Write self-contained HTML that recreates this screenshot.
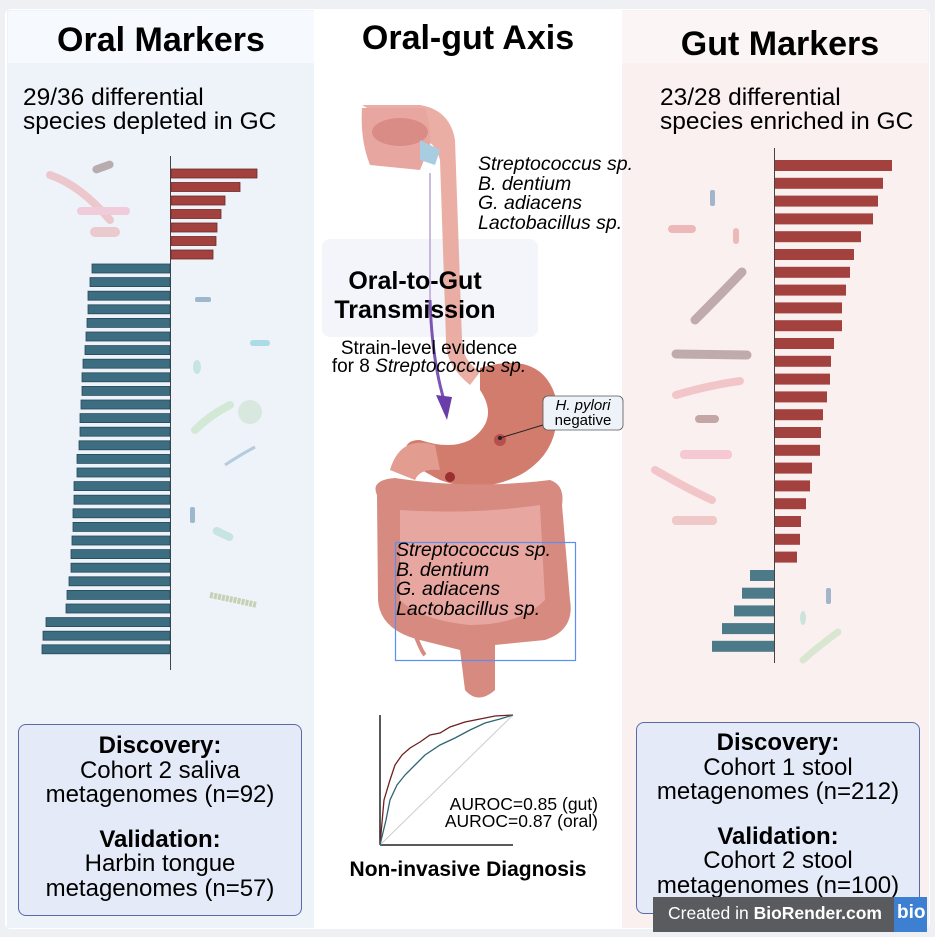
<!DOCTYPE html>
<html><head><meta charset="utf-8"><style>
html,body{margin:0;padding:0;background:#eef0f3;}
body{width:935px;height:937px;position:relative;overflow:hidden;font-family:"Liberation Sans",sans-serif;}
.t{position:absolute;white-space:nowrap;color:#000;}
</style></head><body>
<svg width="935" height="937" style="position:absolute;left:0;top:0" xmlns="http://www.w3.org/2000/svg">
<rect x="5" y="9" width="925" height="920" rx="6" fill="#fff"/>
<rect x="7" y="10" width="307" height="918" fill="#eef3fa"/>
<rect x="8" y="11" width="306" height="52" fill="#f6f9fd"/>
<rect x="622" y="10" width="307" height="918" fill="#fbf0f0"/>
<rect x="622" y="11" width="306" height="52" fill="#fcf5f5"/>
<g opacity="0.55">
<path d="M50 175 Q80 185 110 220" stroke="#eba5a8" stroke-width="8" fill="none" stroke-linecap="round"/>
<rect x="77" y="207" width="53" height="8" rx="4" fill="#f3a9bd"/>
<rect x="90" y="227" width="30" height="10" rx="5" fill="#e8a8a8"/>
<rect x="92" y="163" width="22" height="8" rx="4" fill="#8c7272" transform="rotate(-20 103 167)"/>
<rect x="195" y="297" width="16" height="5" rx="2" fill="#5c86a8"/>
<rect x="250" y="340" width="20" height="6" rx="3" fill="#76c7d6"/>
<ellipse cx="197" cy="367" rx="4" ry="7" fill="#a6d8cc"/>
<path d="M195 430 Q210 415 230 405" stroke="#bde0b8" stroke-width="8" fill="none" stroke-linecap="round"/>
<circle cx="250" cy="412" r="12" fill="#c6dfc8"/>
<path d="M225 465 Q240 455 255 447" stroke="#86acc6" stroke-width="3" fill="none"/>
<rect x="190" y="507" width="5" height="16" rx="2" fill="#5c86a8"/>
<rect x="212" y="530" width="22" height="8" rx="4" fill="#a6d8cc" transform="rotate(25 223 534)"/>
<path d="M210 595 Q235 600 257 605" stroke="#a8b27a" stroke-width="6" fill="none" stroke-dasharray="3 1"/>
</g>
<g opacity="0.55">
<rect x="710" y="190" width="5" height="16" rx="2" fill="#5c86a8"/>
<rect x="668" y="225" width="28" height="8" rx="4" fill="#e38c8c"/>
<rect x="733" y="228" width="6" height="16" rx="3" fill="#e38c8c"/>
<path d="M695 320 Q720 295 742 272" stroke="#8f7474" stroke-width="9" fill="none" stroke-linecap="round"/>
<path d="M676 354 L747 355" stroke="#8f7474" stroke-width="9" stroke-linecap="round"/>
<path d="M676 395 Q710 385 740 381" stroke="#eba5a8" stroke-width="8" stroke-linecap="round" fill="none"/>
<rect x="695" y="415" width="24" height="8" rx="4" fill="#9a6a6a"/>
<rect x="680" y="450" width="52" height="9" rx="4" fill="#f3a9bd"/>
<path d="M655 470 Q690 490 712 500" stroke="#eba5a8" stroke-width="8" stroke-linecap="round" fill="none"/>
<rect x="672" y="516" width="45" height="9" rx="4" fill="#e8a8a8"/>
<rect x="826" y="588" width="5" height="16" rx="2" fill="#5c86a8"/>
<ellipse cx="803" cy="618" rx="3" ry="7" fill="#a6d8cc"/>
<path d="M803 660 Q820 645 838 632" stroke="#bde0b8" stroke-width="7" fill="none" stroke-linecap="round"/>
</g>
<line x1="170.5" y1="156" x2="170.5" y2="670" stroke="#444" stroke-width="1"/>
<g fill="#a3413f" stroke="#6f2a2a" stroke-width="0.8">
<rect x="171" y="169" width="86" height="9"/><rect x="171" y="182.5" width="69" height="9"/><rect x="171" y="196" width="54" height="9"/><rect x="171" y="209.5" width="50" height="9"/><rect x="171" y="223" width="46" height="9"/><rect x="171" y="236.5" width="45" height="9"/><rect x="171" y="250" width="42" height="9"/>
</g>
<g fill="#3d6d80" stroke="#26495a" stroke-width="0.8">
<rect x="92" y="264" width="78" height="9"/><rect x="90" y="277.6" width="80" height="9"/><rect x="88" y="291.2" width="82" height="9"/><rect x="88" y="304.8" width="82" height="9"/><rect x="87" y="318.4" width="83" height="9"/><rect x="86" y="332" width="84" height="9"/><rect x="85" y="345.6" width="85" height="9"/><rect x="83" y="359.2" width="87" height="9"/><rect x="82" y="372.8" width="88" height="9"/><rect x="82" y="386.4" width="88" height="9"/><rect x="81" y="400" width="89" height="9"/><rect x="80" y="413.6" width="90" height="9"/><rect x="80" y="427.2" width="90" height="9"/><rect x="79" y="440.8" width="91" height="9"/><rect x="77" y="454.4" width="93" height="9"/><rect x="77" y="468" width="93" height="9"/><rect x="74" y="481.6" width="96" height="9"/><rect x="74" y="495.2" width="96" height="9"/><rect x="73" y="508.8" width="97" height="9"/><rect x="73" y="522.4" width="97" height="9"/><rect x="72" y="536" width="98" height="9"/><rect x="71" y="549.6" width="99" height="9"/><rect x="71" y="563.2" width="99" height="9"/><rect x="69" y="576.8" width="101" height="9"/><rect x="67" y="590.4" width="103" height="9"/><rect x="66" y="604" width="104" height="9"/><rect x="46" y="617.6" width="124" height="9"/><rect x="43" y="631.2" width="127" height="9"/><rect x="42" y="644.8" width="128" height="9"/>
</g>
<line x1="774.5" y1="148" x2="774.5" y2="663" stroke="#444" stroke-width="1"/>
<g fill="#a3413f">
<rect x="775" y="160" width="117" height="11"/><rect x="775" y="177.8" width="108" height="11"/><rect x="775" y="195.6" width="103" height="11"/><rect x="775" y="213.4" width="98" height="11"/><rect x="775" y="231.2" width="86" height="11"/><rect x="775" y="249" width="79" height="11"/><rect x="775" y="266.8" width="75" height="11"/><rect x="775" y="284.6" width="71" height="11"/><rect x="775" y="302.4" width="67" height="11"/><rect x="775" y="320.2" width="67" height="11"/><rect x="775" y="338" width="59" height="11"/><rect x="775" y="355.8" width="56" height="11"/><rect x="775" y="373.6" width="55" height="11"/><rect x="775" y="391.4" width="52" height="11"/><rect x="775" y="409.2" width="48" height="11"/><rect x="775" y="427" width="46" height="11"/><rect x="775" y="444.8" width="45" height="11"/><rect x="775" y="462.6" width="37" height="11"/><rect x="775" y="480.4" width="35" height="11"/><rect x="775" y="498.2" width="31" height="11"/><rect x="775" y="516" width="26" height="11"/><rect x="775" y="533.8" width="25" height="11"/><rect x="775" y="551.6" width="22" height="11"/>
</g>
<g fill="#4c7a88">
<rect x="750" y="570" width="24" height="11"/><rect x="742" y="587.7" width="32" height="11"/><rect x="734" y="605.4" width="40" height="11"/><rect x="722" y="623.1" width="52" height="11"/><rect x="712" y="640.8" width="62" height="11"/>
</g>
<rect x="322" y="239" width="216" height="98" rx="8" fill="#f3f5fa"/>
<path d="M362 105 L420 105 Q450 110 455 140 L462 340 Q462 360 480 372 L470 385 Q445 365 446 340 L440 160 Q435 140 420 140 Z" fill="#e8a59a" opacity="0.9"/>
<path d="M362 108 L425 108 Q432 130 430 145 L420 170 L370 165 Q360 140 362 108Z" fill="#e7a7a0"/>
<ellipse cx="400" cy="132" rx="28" ry="14" fill="#d98c85"/>
<path d="M420 140 L440 150 L435 165 L420 160Z" fill="#a9cde0"/>
<line x1="430" y1="173" x2="430" y2="300" stroke="#b9a4d6" stroke-width="1.5"/>
<path d="M430 300 Q432 360 444 400" stroke="#7b55b3" stroke-width="3" fill="none"/>
<polygon points="436,395 452,397 447,420" fill="#6a3ea8"/>
<path d="M480 368 Q540 350 555 395 Q565 450 520 475 Q480 495 440 480 Q420 470 408 460 Q400 440 420 440 Q450 450 470 440 Q500 420 480 390 Z" fill="#d27c6e"/>
<path d="M390 470 Q400 435 435 445 L440 470 Q420 468 415 480Z" fill="#e29c90"/>
<circle cx="450" cy="477" r="5" fill="#9b2f2f"/>
<circle cx="500" cy="440" r="6" fill="#b04545" opacity="0.8"/>
<path d="M377 495 Q370 480 395 478 Q470 490 550 480 Q565 485 562 505 L570 600 Q575 630 545 640 L495 645 L495 690 Q478 705 465 690 L460 650 L420 640 Q380 630 378 600 Z" fill="#d68a80"/>
<path d="M400 510 Q470 515 540 505 L545 600 Q520 625 470 625 Q420 620 400 600Z" fill="#e7a7a0"/>
<path d="M408 615 Q420 650 425 655" stroke="#d68a80" stroke-width="4" fill="none"/>
<rect x="395.5" y="542.5" width="180" height="118" fill="none" stroke="#5b8ff0" stroke-width="1.2"/>
<line x1="500" y1="438" x2="543" y2="425" stroke="#222" stroke-width="1"/>
<circle cx="500" cy="438" r="2" fill="#222"/>
<rect x="543" y="396" width="80" height="34" rx="5" fill="#eef3fa" stroke="#555" stroke-width="0.8"/>
<line x1="380" y1="715" x2="380" y2="845" stroke="#222" stroke-width="1.5"/>
<line x1="380" y1="845" x2="513" y2="845" stroke="#222" stroke-width="1.5"/>
<line x1="380" y1="845" x2="513" y2="715" stroke="#ccc" stroke-width="1"/>
<path d="M380 845 L384 800 L390 780 L395 765 L402 755 L410 748 L420 742 L430 735 L440 733 L450 727 L465 722 L480 719 L495 716 L513 715" stroke="#6e2020" stroke-width="1.3" fill="none"/>
<path d="M380 845 L386 820 L390 800 L397 785 L405 775 L415 765 L425 755 L440 745 L455 738 L470 730 L485 723 L500 719 L513 715" stroke="#2f6674" stroke-width="1.3" fill="none"/>
</svg>
<div style="position:absolute;left:18px;top:724px;width:282px;height:190px;border:1.3px solid #5b6aa6;border-radius:8px;background:#e4eaf7"></div>
<div style="position:absolute;left:636px;top:722px;width:282px;height:190px;border:1.3px solid #5b6aa6;border-radius:8px;background:#e4eaf7"></div>
<div class="t" style="left:8px;top:21px;width:306px;text-align:center;font-size:34px;font-weight:bold">Oral Markers</div>
<div class="t" style="left:314px;top:19px;width:308px;text-align:center;font-size:34px;font-weight:bold">Oral-gut Axis</div>
<div class="t" style="left:628px;top:25px;width:304px;text-align:center;font-size:34px;font-weight:bold">Gut Markers</div>
<div class="t" style="left:23px;top:86px;font-size:24.5px;line-height:24px">29/36 differential<br>species depleted in GC</div>
<div class="t" style="left:660px;top:86px;font-size:24.5px;line-height:24px">23/28 differential<br>species enriched in GC</div>
<div class="t" style="left:478px;top:155px;font-size:19.5px;line-height:19.5px;font-style:italic">Streptococcus sp.<br>B. dentium<br>G. adiacens<br>Lactobacillus sp.</div>
<div class="t" style="left:396px;top:541px;font-size:19.5px;line-height:19.5px;font-style:italic">Streptococcus sp.<br>B. dentium<br>G. adiacens<br>Lactobacillus sp.</div>
<div class="t" style="left:308px;top:267px;width:214px;text-align:center;font-size:25px;font-weight:bold;line-height:29px">Oral-to-Gut<br>Transmission</div>
<div class="t" style="left:314px;top:340px;width:230px;text-align:center;font-size:19px;line-height:18px">Strain-level evidence<br>for 8 <i>Streptococcus sp.</i></div>
<div class="t" style="left:543px;top:398px;width:80px;text-align:center;font-size:15px;line-height:15px"><i>H. pylori</i><br>negative</div>
<div class="t" style="left:390px;top:796px;width:208px;text-align:right;font-size:17.5px;line-height:17px">AUROC=0.85 (gut)<br>AUROC=0.87 (oral)</div>
<div class="t" style="left:318px;top:858px;width:300px;text-align:center;font-size:21px;font-weight:bold">Non-invasive Diagnosis</div>
<div class="t" style="left:18px;top:734px;width:284px;text-align:center;font-size:24px;line-height:24.5px"><b>Discovery:</b><br>Cohort 2 saliva<br>metagenomes (n=92)<br><div style="height:20px"></div><b>Validation:</b><br>Harbin tongue<br>metagenomes (n=57)</div>
<div class="t" style="left:636px;top:731px;width:284px;text-align:center;font-size:24px;line-height:24.5px"><b>Discovery:</b><br>Cohort 1 stool<br>metagenomes (n=212)<br><div style="height:20px"></div><b>Validation:</b><br>Cohort 2 stool<br>metagenomes (n=100)</div>
<div style="position:absolute;left:653px;top:897px;width:241px;height:35px;background:#5a5b5f"></div>
<div style="position:absolute;left:894px;top:897px;width:33px;height:35px;background:#3d7fd0"></div>
<div class="t" style="left:668px;top:903px;font-size:17.5px;color:#fff">Created in <b>BioRender.com</b></div>
<div class="t" style="left:897px;top:902px;font-size:19px;color:#fff;font-weight:bold">bio</div>
</body></html>
